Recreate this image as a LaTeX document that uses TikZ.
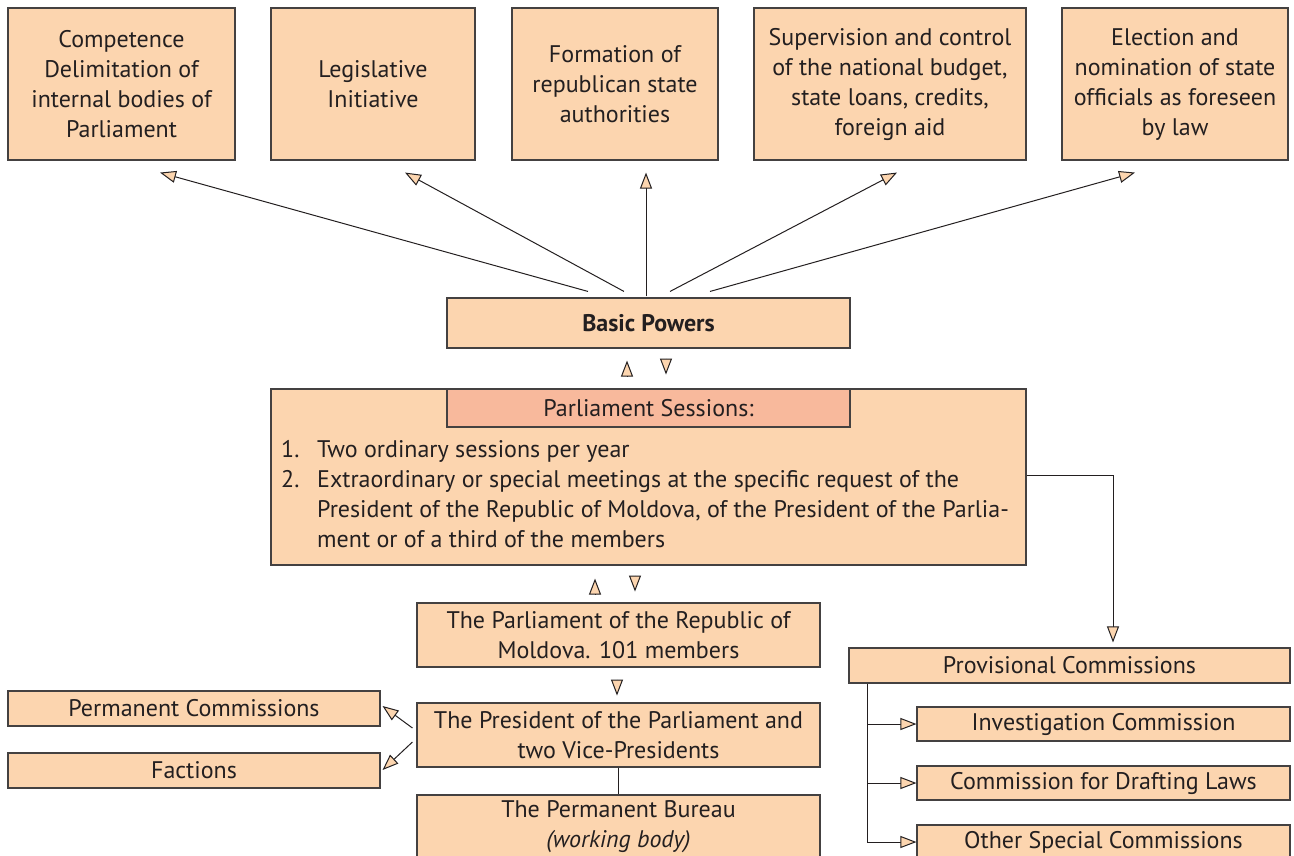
\documentclass[tikz,border=0pt]{standalone}
\usepackage{fontspec}
\setmainfont{PT Sans}
\usetikzlibrary{positioning,arrows.meta,calc}
\definecolor{peach}{HTML}{FCD5AF}
\definecolor{salmon}{HTML}{F8B99C}
\definecolor{ink}{HTML}{231F20}
\newcommand{\boxfont}{\fontsize{24}{30}\selectfont}
\tikzset{
  box/.style={
    draw=ink!85,
    fill=peach,
    line width=1.1pt,
    text=ink,
    align=center,
    inner sep=0pt,
    font=\boxfont
  },
  tri/.style={
    -{Triangle[length=16pt,width=12pt,fill=peach]},
    draw=ink,
    line width=1pt
  }
}
\begin{document}
\begin{tikzpicture}[x=1pt,y=-1pt]
        \useasboundingbox (0,0) rectangle (1294,855);
        \clip (0,0) rectangle (1294,855);
        % top row
        \node [box, minimum width=227pt, minimum height=152pt] (b1) at (121.5,84) {Competence\\Delimitation of\\internal bodies of\\Parliament};
        \node [box, on grid, right=251.5pt of b1, minimum width=204pt, minimum height=152pt] (b2) {Legislative\\Initiative};
        \node [box, on grid, right=242pt of b2, minimum width=206pt, minimum height=152pt] (b3) {Formation of\\republican state\\authorities};
        \node [box, on grid, right=275pt of b3, minimum width=272pt, minimum height=152pt] (b4) {Supervision and control\\of the national budget,\\state loans, credits,\\foreign aid};
        \node [box, on grid, right=285pt of b4, minimum width=226pt, minimum height=152pt] (b5) {Election and\\nomination of state\\officials as foreseen\\by law};
        % middle
        \node [box, minimum width=403pt, minimum height=50pt] (basic) at (648.5,323) {\textbf{Basic Powers}};
        \node [box, minimum width=755pt, minimum height=176pt] (sess) at (648.5,477) {};
        \node [box, fill=salmon, anchor=north, minimum width=403pt, minimum height=38pt] (head) at (sess.north) {Parliament Sessions:};
        \node [anchor=north west, inner sep=0pt, text=ink, font=\boxfont, align=left] (list) at (281,436) {%
          \begin{tabular}{@{}p{36pt}@{}l@{}}
            1. & Two ordinary sessions per year\\
            2. & Extraordinary or special meetings at the specific request of the\\
               & President of the Republic of Moldova, of the President of the Parlia-\\
               & ment or of a third of the members
          \end{tabular}};
        \node [box, minimum width=403pt, minimum height=64pt] (parl) at (618.5,635) {The Parliament of the Republic of\\Moldova. 101 members};
        \node [box, on grid, below=100pt of parl, minimum width=403pt, minimum height=64pt] (pres) {The President of the Parliament and\\two Vice-Presidents};
        \node [box, on grid, below=92pt of pres, minimum width=403pt, minimum height=64pt] (bur) {The Permanent Bureau\\\textit{(working body)}};
        \node [box, minimum width=372pt, minimum height=35pt] (perm) at (194,708.5) {Permanent Commissions};
        \node [box, on grid, below=62pt of perm, minimum width=372pt, minimum height=35pt] (fact) {Factions};
        % provisional side
        \node [box, minimum width=441pt, minimum height=35pt] (prov) at (1069.5,665.5) {Provisional Commissions};
        \node [box, minimum width=373pt, minimum height=34pt] (inv) at (1103.5,724) {Investigation Commission};
        \node [box, on grid, below=59pt of inv, minimum width=373pt, minimum height=34pt] (draft) {Commission for Drafting Laws};
        \node [box, on grid, below=59pt of draft, minimum width=373pt, minimum height=34pt] (other) {Other Special Commissions};
        % arrows to the powers
        \draw [tri] ([xshift=-60.5pt,yshift=6pt]basic.north) -- ([xshift=38.5pt,yshift=-12pt]b1.south);
        \draw [tri] ([xshift=-24.5pt,yshift=6pt]basic.north) -- ([xshift=32pt,yshift=-12pt]b2.south);
        \draw [tri] ([xshift=-2.5pt,yshift=1pt]basic.north) -- ([xshift=31pt,yshift=-12pt]b3.south);
        \draw [tri] ([xshift=21.5pt,yshift=6pt]basic.north) -- ([xshift=7pt,yshift=-12pt]b4.south);
        \draw [tri] ([xshift=61.5pt,yshift=6pt]basic.north) -- ([xshift=-40pt,yshift=-12pt]b5.south);
        % loose triangles
        \draw [tri] ([xshift=-21.5pt,yshift=-28pt]basic.south) -- ([xshift=-21.5pt,yshift=-12pt]basic.south);
        \draw [tri] ([xshift=17.5pt,yshift=-10pt]basic.south) -- ([xshift=17.5pt,yshift=-26pt]basic.south);
        \draw [tri] ([xshift=-53.5pt,yshift=-29pt]sess.south) -- ([xshift=-53.5pt,yshift=-13pt]sess.south);
        \draw [tri] ([xshift=-13.5pt,yshift=-10pt]sess.south) -- ([xshift=-13.5pt,yshift=-26pt]sess.south);
        \draw [tri] ([xshift=-1.5pt,yshift=-12pt]parl.south) -- ([xshift=-1.5pt,yshift=-28pt]parl.south);
        % president
        \draw [tri] ([xshift=-4pt,yshift=7pt]pres.west) -- ([xshift=2pt,yshift=2.5pt]perm.east);
        \draw [tri] ([xshift=-4pt,yshift=-7pt]pres.west) -- ([xshift=2pt,yshift=0.5pt]fact.east);
        \draw [line width=1pt, draw=ink] (pres) -- (bur);
        % provisional
        \draw [tri] ([yshift=2pt]sess.east) -| ([xshift=43.5pt,yshift=5pt]prov.north);
        \coordinate (trunk) at ([xshift=19pt]prov.south west);
        \draw [line width=1pt, draw=ink] (trunk) -- (trunk |- other.west);
        \draw [tri] (trunk |- inv.west) -- (inv.west);
        \draw [tri] (trunk |- draft.west) -- (draft.west);
        \draw [tri] (trunk |- other.west) -- (other.west);
      \end{tikzpicture}
\end{document}
